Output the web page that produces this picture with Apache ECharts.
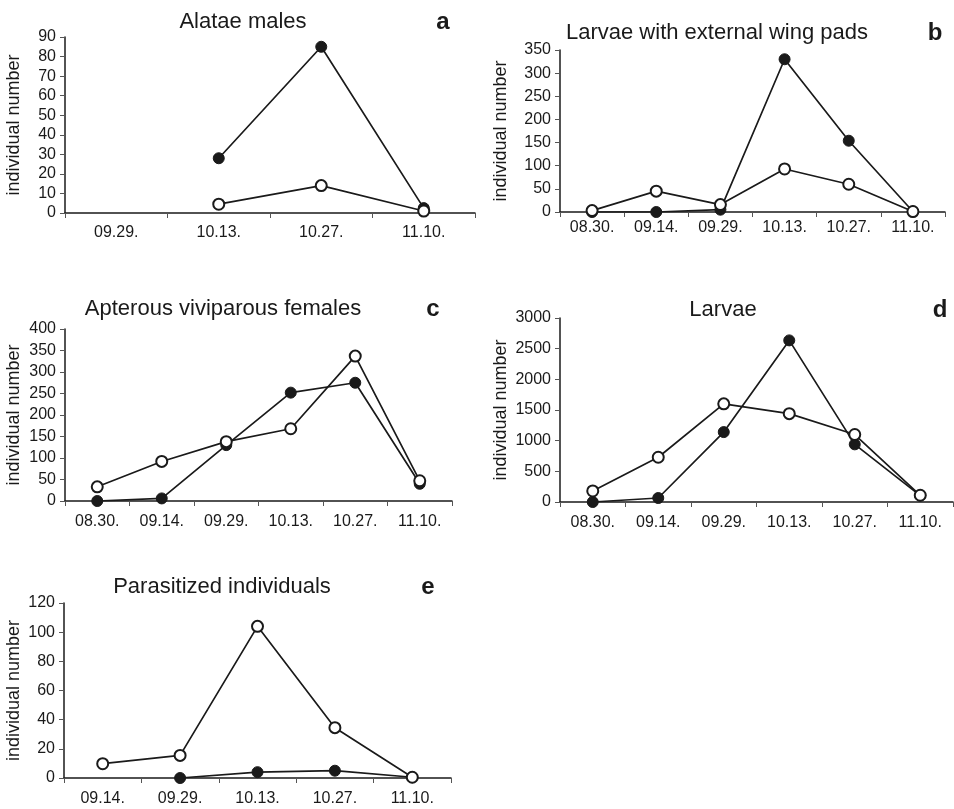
<!DOCTYPE html>
<html>
<head>
<meta charset="utf-8">
<script src="https://cdn.jsdelivr.net/npm/echarts@6/dist/echarts.min.js"></script>
<style>
  html, body { margin: 0; padding: 0; background: #fff; }
  #main { width: 954px; height: 809px; }
</style>
</head>
<body>
<div id="main"></div>
<script>
// categories (sampling dates)
const catsA = ['09.29.', '10.13.', '10.27.', '11.10.']
const catsFull = ['08.30.', '09.14.', '09.29.', '10.13.', '10.27.', '11.10.']
const catsE = ['09.14.', '09.29.', '10.13.', '10.27.', '11.10.']

// a: Alatae males
const alataeFilled = [null, 28, 85, 2.5]
const alataeOpen = [null, 4.5, 14, 1]
// b: Larvae with external wing pads
const wingFilled = [0, 0, 5, 330, 154, 1]
const wingOpen = [3, 45, 16, 93, 60, 1]
// c: Apterous viviparous females
const apterFilled = [0, 6, 130, 252, 275, 40]
const apterOpen = [33, 92, 138, 168, 337, 47]
// d: Larvae
const larvaeFilled = [0, 65, 1140, 2635, 940, 105]
const larvaeOpen = [180, 730, 1600, 1440, 1100, 110]
// e: Parasitized individuals
const parasFilled = [null, 0, 4, 5, 0.5]
const parasOpen = [9.8, 15.5, 104, 34.5, 0.5]

const titles = ['Alatae males', 'Larvae with external wing pads', 'Apterous viviparous females', 'Larvae', 'Parasitized individuals']
const letters = ['a', 'b', 'c', 'd', 'e']

const ink = '#1a1a1a'
const font = 'Liberation Sans, Arial, sans-serif'

const panels = [
  { cats: catsA, filled: alataeFilled, open: alataeOpen, max: 90, interval: 10,
    grid: { left: 65, top: 37, width: 410, height: 176 }, titleX: 243, titleY: 22, letterX: 443, nameGap: 42, labelMargin: 12 },
  { cats: catsFull, filled: wingFilled, open: wingOpen, max: 350, interval: 50,
    grid: { left: 560, top: 50, width: 385, height: 162 }, titleX: 717, titleY: 33, letterX: 935, nameGap: 50, labelMargin: 8 },
  { cats: catsFull, filled: apterFilled, open: apterOpen, max: 400, interval: 50,
    grid: { left: 65, top: 329, width: 387, height: 172 }, titleX: 223, titleY: 309, letterX: 433, nameGap: 42, labelMargin: 13 },
  { cats: catsFull, filled: larvaeFilled, open: larvaeOpen, max: 3000, interval: 500,
    grid: { left: 560, top: 318, width: 393, height: 184 }, titleX: 723, titleY: 310, letterX: 940, nameGap: 50, labelMargin: 13 },
  { cats: catsE, filled: parasFilled, open: parasOpen, max: 120, interval: 20,
    grid: { left: 64, top: 603, width: 387, height: 175 }, titleX: 222, titleY: 587, letterX: 428, nameGap: 41, labelMargin: 13 },
]

const chart = echarts.init(document.getElementById('main'), null, { renderer: 'canvas' })

const grid = []
const xAxis = []
const yAxis = []
const series = []
const graphic = []

panels.forEach((p, i) => {
  grid.push(p.grid)
  xAxis.push({
    type: 'category',
    gridIndex: i,
    data: p.cats,
    boundaryGap: true,
    axisLine: { lineStyle: { color: ink, width: 1.5 } },
    axisTick: { show: true, length: 5, lineStyle: { color: '#555', width: 1 } },
    axisLabel: { color: ink, fontSize: 16, fontFamily: font, margin: p.labelMargin },
    splitLine: { show: false },
  })
  yAxis.push({
    type: 'value',
    gridIndex: i,
    min: 0,
    max: p.max,
    interval: p.interval,
    name: 'individual number',
    nameLocation: 'middle',
    nameRotate: 90,
    nameGap: p.nameGap,
    nameTextStyle: { color: ink, fontSize: 18, fontFamily: font },
    axisLine: { show: true, lineStyle: { color: ink, width: 1.5 } },
    axisTick: { show: true, length: 5, lineStyle: { color: '#555', width: 1 } },
    axisLabel: { color: ink, fontSize: 16, fontFamily: font, margin: 9, formatter: (v) => String(v) },
    splitLine: { show: false },
  })
  series.push({
    type: 'line',
    xAxisIndex: i,
    yAxisIndex: i,
    data: p.filled,
    symbol: 'circle',
    symbolSize: 11,
    lineStyle: { color: ink, width: 1.7 },
    itemStyle: { color: ink, borderColor: ink, borderWidth: 1 },
    z: 2,
  })
  series.push({
    type: 'line',
    xAxisIndex: i,
    yAxisIndex: i,
    data: p.open,
    symbol: 'circle',
    symbolSize: 11,
    showAllSymbol: true,
    lineStyle: { color: ink, width: 1.7 },
    itemStyle: { color: '#fff', borderColor: ink, borderWidth: 2 },
    z: 3,
  })
  graphic.push({
    type: 'text',
    x: p.titleX,
    y: p.titleY,
    style: { text: titles[i], fill: ink, font: '22px ' + font, align: 'center', verticalAlign: 'middle' },
  })
  graphic.push({
    type: 'text',
    x: p.letterX,
    y: p.titleY,
    style: { text: letters[i], fill: ink, font: 'bold 24px ' + font, align: 'center', verticalAlign: 'middle' },
  })
})

chart.setOption({
  backgroundColor: '#fff',
  animation: false,
  grid,
  xAxis,
  yAxis,
  series,
  graphic,
})
</script>
</body>
</html>
